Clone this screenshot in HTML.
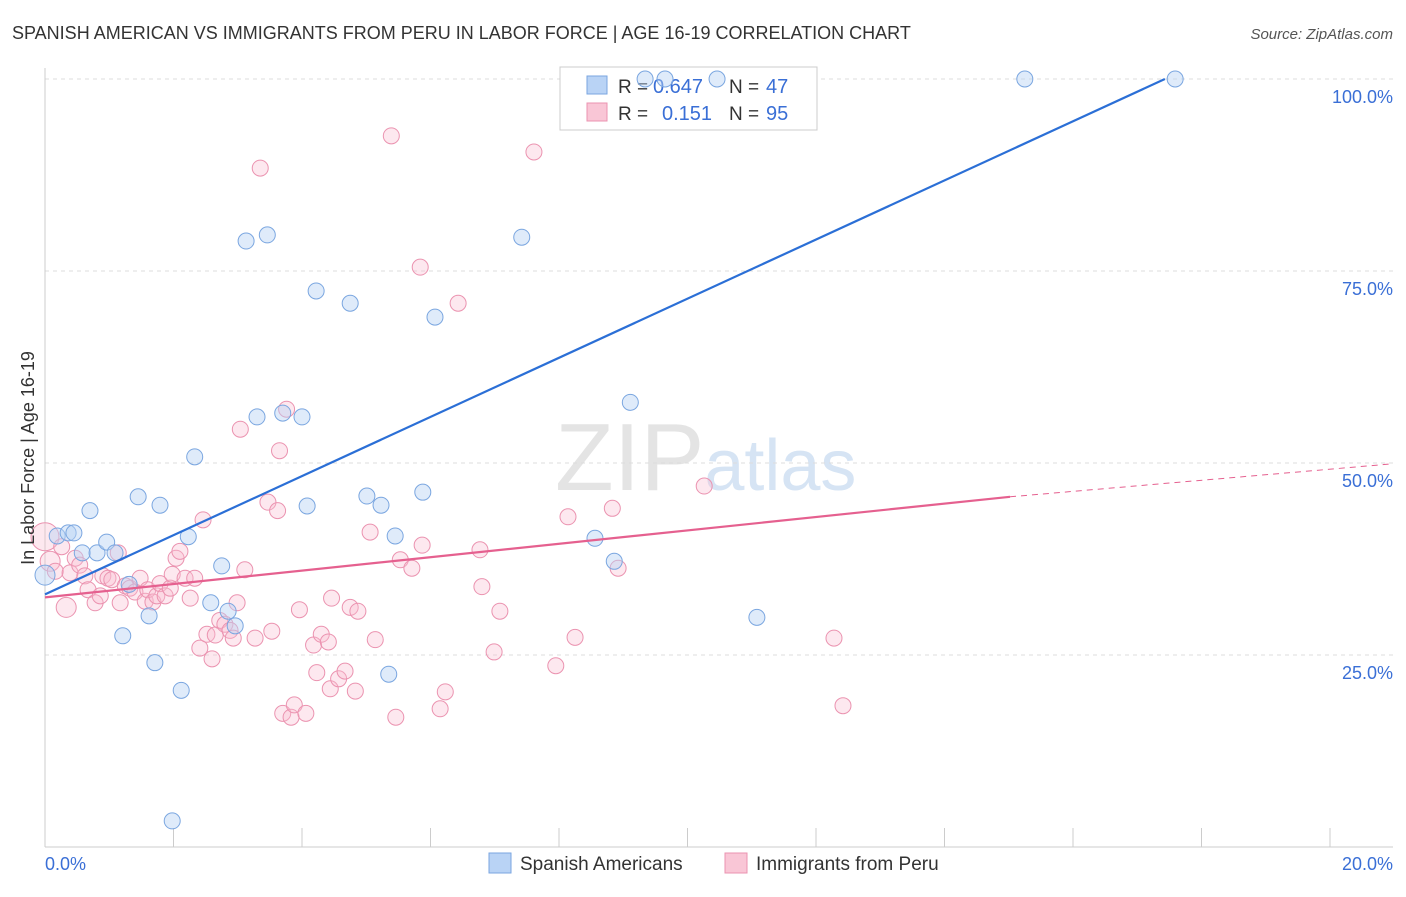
<!DOCTYPE html>
<html><head><meta charset="utf-8"><style>
body{margin:0;background:#fff;font-family:"Liberation Sans",sans-serif;overflow:hidden;}
svg text{font-family:"Liberation Sans",sans-serif;}
</style></head><body>
<svg id="chart" width="1406" height="892">
<text x="12" y="39" font-size="18" fill="#333">SPANISH AMERICAN VS IMMIGRANTS FROM PERU IN LABOR FORCE | AGE 16-19 CORRELATION CHART</text>
<text x="1393" y="39" font-size="15" fill="#555" font-style="italic" text-anchor="end">Source: ZipAtlas.com</text>
<text x="555" y="490" font-size="96" fill="#e4e4e4" font-family="Liberation Serif">ZIP<tspan fill="#d6e4f4" font-family="Liberation Sans" font-size="72">atlas</tspan></text>
<g id="grid"></g><g id="axes"></g>
<g>
<rect x="560" y="67" width="257" height="63" fill="#fff" stroke="#ccc"/>
<rect x="587" y="76" width="20" height="18" fill="#b9d3f5" stroke="#7aa6e0"/>
<rect x="587" y="103" width="20" height="18" fill="#f9c6d6" stroke="#eb93b0"/>
<text x="618" y="93" font-size="19" fill="#333">R =</text>
<text x="653" y="93" font-size="20" fill="#3a6fd6">0.647</text>
<text x="729" y="93" font-size="19" fill="#333">N =</text>
<text x="766" y="93" font-size="20" fill="#3a6fd6">47</text>
<text x="618" y="120" font-size="19" fill="#333">R =</text>
<text x="662" y="120" font-size="20" fill="#3a6fd6">0.151</text>
<text x="729" y="120" font-size="19" fill="#333">N =</text>
<text x="766" y="120" font-size="20" fill="#3a6fd6">95</text>
</g>
<g id="pts"></g><g id="lines"></g>
<text x="34" y="458" font-size="18" fill="#333" text-anchor="middle" transform="rotate(-90 34 458)">In Labor Force | Age 16-19</text>
<g>
<rect x="489" y="853" width="22" height="20" fill="#b9d3f5" stroke="#7aa6e0"/>
<text x="520" y="870" font-size="19" fill="#333">Spanish Americans</text>
<rect x="725" y="853" width="22" height="20" fill="#f9c6d6" stroke="#eb93b0"/>
<text x="756" y="870" font-size="19" fill="#333">Immigrants from Peru</text>
</g>
</svg>
<script>
const blueX=[0,0.19,0.36,0.45,0.7,0.58,0.81,0.96,1.09,1.21,1.31,1.45,1.62,1.71,1.79,1.98,2.12,2.23,2.33,2.58,2.75,2.85,2.96,3.13,3.46,3.3,3.7,4.0,4.08,4.22,4.75,5.01,5.23,5.35,5.45,5.88,6.07,7.42,8.56,8.86,9.11,9.34,9.65,10.46,11.08,15.25,17.59];
const blueY=[35.4,40.5,40.9,40.9,43.8,38.3,38.3,39.7,38.3,27.5,34.2,45.6,30.1,24.0,44.5,3.4,20.4,40.4,50.8,31.8,36.6,30.7,28.8,78.9,79.7,56.0,56.5,56.0,44.4,72.4,70.8,45.7,44.5,22.5,40.5,46.2,69.0,79.4,40.2,37.2,57.9,100,100,100,29.9,100,100];
const pinkX=[0,0.08,0.16,0.26,0.33,0.39,0.47,0.54,0.62,0.67,0.78,0.86,0.9,0.98,1.04,1.14,1.17,1.25,1.32,1.4,1.48,1.56,1.6,1.68,1.74,1.79,1.87,1.95,1.98,2.04,2.1,2.18,2.26,2.33,2.41,2.46,2.52,2.6,2.65,2.72,2.8,2.88,2.93,2.99,3.04,3.11,3.27,3.35,3.47,3.53,3.62,3.65,3.7,3.76,3.83,3.88,3.96,4.06,4.18,4.23,4.3,4.41,4.46,4.44,4.57,4.67,4.75,4.83,4.87,5.06,5.14,5.39,5.46,5.53,5.71,5.84,5.87,6.15,6.23,6.43,6.77,6.8,6.99,7.08,7.61,7.95,8.14,8.25,8.83,8.92,10.26,12.28,12.42];
const pinkY=[40.4,37.2,35.9,39.1,31.2,35.7,37.6,36.7,35.3,33.5,31.8,32.7,35.3,35.0,34.8,38.3,31.8,34.0,33.7,33.2,35.0,32.0,33.5,31.9,32.7,34.3,32.7,33.7,35.5,37.6,38.5,35.0,32.4,35.0,25.9,42.6,27.7,24.5,27.6,29.5,29.0,28.2,27.2,31.8,54.4,36.1,27.2,88.4,44.9,28.1,43.8,51.6,17.4,57.0,16.9,18.5,30.9,17.4,26.3,22.7,27.7,26.7,32.4,20.6,21.9,22.9,31.2,20.3,30.7,41.0,27.0,92.6,16.9,37.4,36.3,75.5,39.3,18.0,20.2,70.8,38.7,33.9,25.4,30.7,90.5,23.6,43.0,27.3,44.1,36.3,47.0,27.2,18.4];
const X=v=>45+v*64.25, Y=v=>847-v*7.68;
const NS='http://www.w3.org/2000/svg';
function mk(tag,a,p){const e=document.createElementNS(NS,tag);for(const k in a)e.setAttribute(k,a[k]);document.getElementById(p).appendChild(e);return e;}
const yTicks=[25,50,75,100], yLabels=['25.0%','50.0%','75.0%','100.0%'];
yTicks.forEach((t,i)=>{
 let g=mk('line',{x1:45,x2:1393,y1:Y(t),y2:Y(t),stroke:'#ddd','stroke-dasharray':'4,4'},'grid');
 
 
 let l=mk('text',{x:1393,y:Y(t)+24,'font-size':18,fill:'#3a6fd6','text-anchor':'end'},'axes');l.textContent=yLabels[i];
 
 
});
let ax=mk('line',{x1:45,x2:45,y1:68,y2:847,stroke:'#ccc'},'axes');


let bx=mk('line',{x1:45,x2:1393,y1:847,y2:847,stroke:'#ccc'},'axes');


for(let i=0;i<=20;i+=2){let t=mk('line',{x1:X(i),x2:X(i),y1:828,y2:847,stroke:'#ccc'},'axes');
 
 }
const xLabels=['0.0%','20.0%'];
let x0=mk('text',{x:45,y:870,'font-size':18,fill:'#3a6fd6'},'axes');x0.textContent=xLabels[0];


let x1=mk('text',{x:1393,y:870,'font-size':18,fill:'#3a6fd6','text-anchor':'end'},'axes');x1.textContent=xLabels[1];


pinkX.forEach((v,i)=>{const r=i==0?14:(i==4||i==1?10:8);
 const c=mk('circle',{cx:X(v),cy:Y(pinkY[i]),r:r,fill:'rgba(249,190,210,0.35)',stroke:'#eb93b0','stroke-width':1},'pts');
 
 });
blueX.forEach((v,i)=>{const r=i==0?10:8;
 const c=mk('circle',{cx:X(v),cy:Y(blueY[i]),r:r,fill:'rgba(185,211,245,0.45)',stroke:'#7aa6e0','stroke-width':1},'pts');
 
 });
let bl=mk('line',{x1:X(0),y1:Y(32.9),x2:X(17.43),y2:Y(100),stroke:'#2b6fd6','stroke-width':2.2},'lines');


let pl=mk('line',{x1:X(0),y1:Y(32.5),x2:X(15.02),y2:Y(45.6),stroke:'#e5608f','stroke-width':2.2},'lines');


let pd=mk('line',{x1:X(15.02),y1:Y(45.6),x2:X(20.98),y2:Y(49.9),stroke:'#e5608f','stroke-width':1,'stroke-dasharray':'6,5'},'lines');


</script>
</body></html>
